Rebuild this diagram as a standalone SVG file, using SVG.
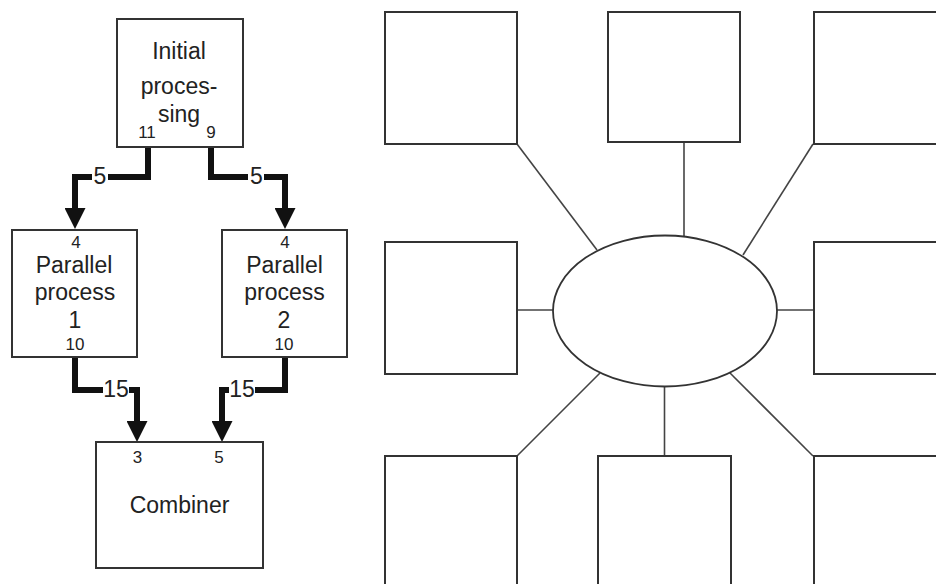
<svg xmlns="http://www.w3.org/2000/svg" width="936" height="584" viewBox="0 0 936 584">
<style>
.box{fill:#fff;stroke:#333;stroke-width:2}
.t{font-family:"Liberation Sans",Arial,sans-serif;font-size:23px;fill:#222;text-anchor:middle}
.n{font-family:"Liberation Sans",Arial,sans-serif;font-size:17px;fill:#222;text-anchor:middle}
.flow{fill:none;stroke:#111;stroke-width:6;marker-end:url(#ah)}
.lbl{fill:#fff}
.link{fill:none;stroke:#444;stroke-width:1.6}
</style>
<defs>
<marker id="ah" viewBox="0 0 21 21" refX="7" refY="10.5" markerWidth="21" markerHeight="21" markerUnits="userSpaceOnUse" orient="auto">
<path d="M0,0 L21,10.5 L0,21 z" fill="#111"/>
</marker>
</defs>
<rect width="936" height="584" fill="#fff"/>

<g id="connectors">
<path class="flow" d="M148,147 V177 H75 V215"/>
<path class="flow" d="M211,147 V177 H285 V215"/>
<path class="flow" d="M75,357 V390 H137 V428"/>
<path class="flow" d="M285,357 V390 H222 V428"/>
<rect class="lbl" x="92" y="166" width="16" height="20"/>
<text class="t" x="100" y="184">5</text>
<rect class="lbl" x="248" y="166" width="16" height="20"/>
<text class="t" x="256.5" y="184">5</text>
<rect class="lbl" x="103" y="377" width="26" height="20"/>
<text class="t" x="116" y="396.5">15</text>
<rect class="lbl" x="229" y="377" width="26" height="20"/>
<text class="t" x="242" y="396.5">15</text>

<line class="link" x1="517" y1="144" x2="597" y2="250"/>
<line class="link" x1="684" y1="142" x2="684" y2="236.6"/>
<line class="link" x1="813" y1="144" x2="743" y2="255"/>
<line class="link" x1="517" y1="310" x2="553" y2="310"/>
<line class="link" x1="777" y1="310" x2="814" y2="310"/>
<line class="link" x1="600" y1="373" x2="517" y2="456"/>
<line class="link" x1="664.5" y1="386.5" x2="664.5" y2="456"/>
<line class="link" x1="729" y1="372" x2="813" y2="456"/>
</g>

<g id="initial">
<rect class="box" x="117" y="19" width="126" height="128"/>
<text class="t" x="179" y="58.5">Initial</text>
<text class="t" x="179" y="94">proces-</text>
<text class="t" x="179" y="122">sing</text>
<text class="n" x="147" y="137.5">11</text>
<text class="n" x="211" y="137.5">9</text>
</g>

<g id="parallel1">
<rect class="box" x="12" y="230" width="125" height="127"/>
<text class="n" x="76" y="247.5">4</text>
<text class="t" x="74" y="273">Parallel</text>
<text class="t" x="75" y="300">process</text>
<text class="t" x="75" y="327.5">1</text>
<text class="n" x="75" y="350">10</text>
</g>

<g id="parallel2">
<rect class="box" x="222" y="230" width="125" height="127"/>
<text class="n" x="285" y="247.5">4</text>
<text class="t" x="284.5" y="273">Parallel</text>
<text class="t" x="284.5" y="300">process</text>
<text class="t" x="284" y="327.5">2</text>
<text class="n" x="284" y="350">10</text>
</g>

<g id="combiner">
<rect class="box" x="96" y="442" width="167" height="126"/>
<text class="n" x="137.5" y="463">3</text>
<text class="n" x="219" y="463">5</text>
<text class="t" x="179.5" y="513">Combiner</text>
</g>

<g id="hub">
<ellipse class="box" cx="665" cy="311" rx="112" ry="75.5" style="stroke-width:1.8"/>
</g>
<g id="box-tl"><rect class="box" x="385" y="12" width="132" height="132"/></g>
<g id="box-tm"><rect class="box" x="608" y="12" width="132" height="130"/></g>
<g id="box-tr"><rect class="box" x="814" y="12" width="140" height="132"/></g>
<g id="box-ml"><rect class="box" x="385" y="242" width="132" height="132"/></g>
<g id="box-mr"><rect class="box" x="814" y="242" width="140" height="132"/></g>
<g id="box-bl"><rect class="box" x="385" y="456" width="132" height="140"/></g>
<g id="box-bm"><rect class="box" x="598" y="456" width="133" height="140"/></g>
<g id="box-br"><rect class="box" x="814" y="456" width="140" height="140"/></g>
</svg>
